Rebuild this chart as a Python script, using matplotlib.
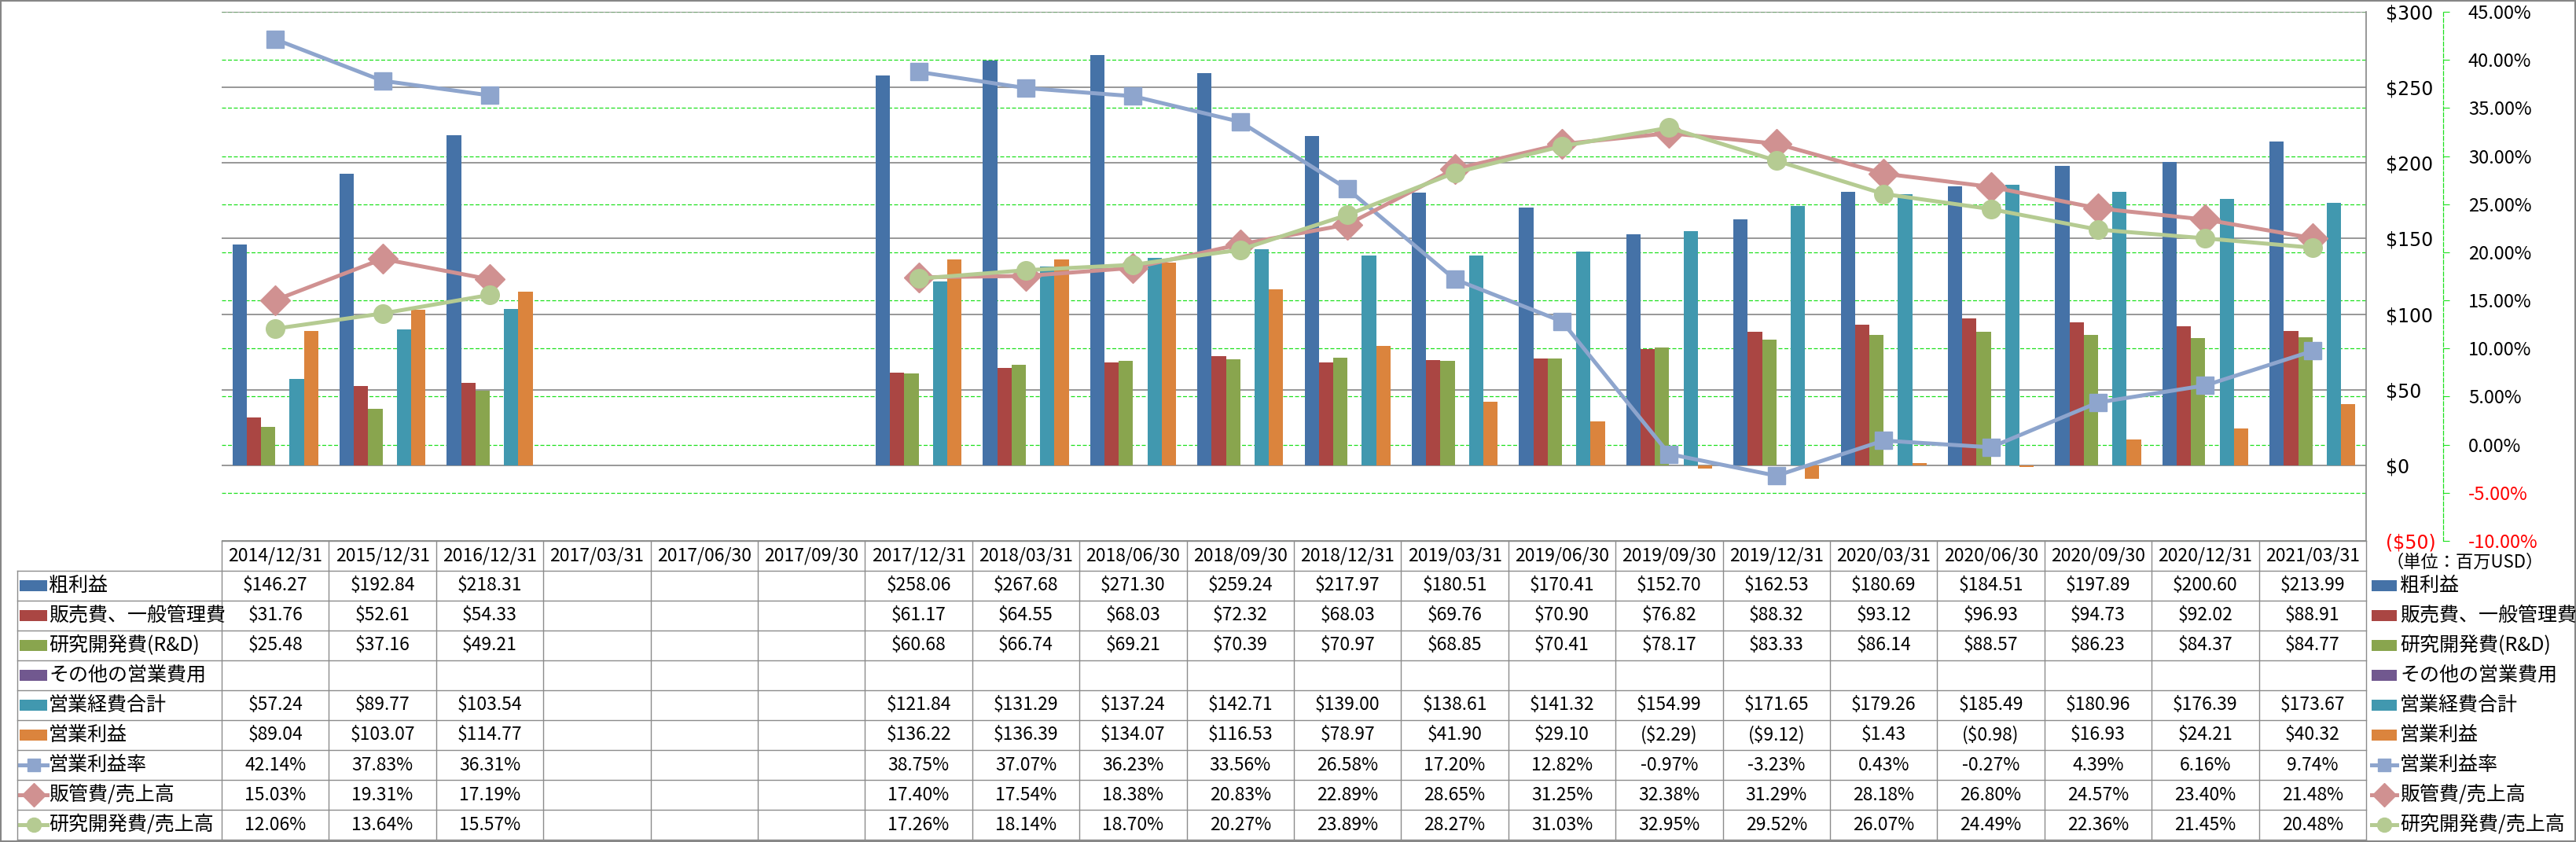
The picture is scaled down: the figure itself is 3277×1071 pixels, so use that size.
import numpy as np
import matplotlib
matplotlib.use('Agg')
import matplotlib.pyplot as plt
from matplotlib.transforms import blended_transform_factory
from matplotlib.patches import Rectangle

plt.rcParams['font.family'] = ['Noto Sans CJK JP', 'DejaVu Sans']

nan = np.nan
dates = ['2014/12/31', '2015/12/31', '2016/12/31', '2017/03/31', '2017/06/30', '2017/09/30',
         '2017/12/31', '2018/03/31', '2018/06/30', '2018/09/30', '2018/12/31', '2019/03/31',
         '2019/06/30', '2019/09/30', '2019/12/31', '2020/03/31', '2020/06/30', '2020/09/30',
         '2020/12/31', '2021/03/31']
gross = [146.27, 192.84, 218.31, nan, nan, nan, 258.06, 267.68, 271.30, 259.24,
         217.97, 180.51, 170.41, 152.70, 162.53, 180.69, 184.51, 197.89, 200.60, 213.99]
sga = [31.76, 52.61, 54.33, nan, nan, nan, 61.17, 64.55, 68.03, 72.32,
       68.03, 69.76, 70.90, 76.82, 88.32, 93.12, 96.93, 94.73, 92.02, 88.91]
rnd = [25.48, 37.16, 49.21, nan, nan, nan, 60.68, 66.74, 69.21, 70.39,
       70.97, 68.85, 70.41, 78.17, 83.33, 86.14, 88.57, 86.23, 84.37, 84.77]
other = [nan] * 20
opex = [57.24, 89.77, 103.54, nan, nan, nan, 121.84, 131.29, 137.24, 142.71,
        139.00, 138.61, 141.32, 154.99, 171.65, 179.26, 185.49, 180.96, 176.39, 173.67]
op_income = [89.04, 103.07, 114.77, nan, nan, nan, 136.22, 136.39, 134.07, 116.53,
             78.97, 41.90, 29.10, -2.29, -9.12, 1.43, -0.98, 16.93, 24.21, 40.32]
op_margin = [42.14, 37.83, 36.31, nan, nan, nan, 38.75, 37.07, 36.23, 33.56,
             26.58, 17.20, 12.82, -0.97, -3.23, 0.43, -0.27, 4.39, 6.16, 9.74]
sga_ratio = [15.03, 19.31, 17.19, nan, nan, nan, 17.40, 17.54, 18.38, 20.83,
             22.89, 28.65, 31.25, 32.38, 31.29, 28.18, 26.80, 24.57, 23.40, 21.48]
rnd_ratio = [12.06, 13.64, 15.57, nan, nan, nan, 17.26, 18.14, 18.70, 20.27,
             23.89, 28.27, 31.03, 32.95, 29.52, 26.07, 24.49, 22.36, 21.45, 20.48]

bar_names = ['粗利益', '販売費、一般管理費', '研究開発費(R&D)', 'その他の営業費用', '営業経費合計', '営業利益']
bar_data = [gross, sga, rnd, other, opex, op_income]
bar_colors = ['#4572A7', '#AA4643', '#89A54E', '#71588F', '#4198AF', '#DB843D']
line_names = ['営業利益率', '販管費/売上高', '研究開発費/売上高']
line_data = [op_margin, sga_ratio, rnd_ratio]
line_colors = ['#8EA5CD', '#D09191', '#B5CB92']
line_markers = ['s', 'D', 'o']
marker_sizes = [16, 19, 17]

usd_ticks = list(range(-50, 301, 50))
pct_ticks = list(range(-10, 46, 5))

W, H = 3277, 1071
L, R, T, B = 282, 3010, 15, 688   # plot area in px
ROW = 38
GRAY = '#868686'
GREEN = '#1EE01E'

fig = plt.figure(figsize=(W / 100, H / 100), dpi=100)
rect = [L / W, 1 - B / H, (R - L) / W, (B - T) / H]
x = np.arange(len(dates))

# secondary % axis (green dashed grid + axis), underneath the bars
axg = fig.add_axes(rect, zorder=0)
axg.set_xlim(-0.5, len(dates) - 0.5)
axg.set_ylim(-10, 45)
axg.set_yticks(pct_ticks)
axg.set_yticklabels(['%.2f%%' % v for v in pct_ticks], family=['DejaVu Sans'])
axg.set_xticks([])
axg.yaxis.tick_right()
axg.grid(axis='y', color=GREEN, ls=(0, (4, 2)), lw=0.9)
for s in ['top', 'bottom', 'left']:
    axg.spines[s].set_visible(False)
axg.spines['right'].set_position(('axes', (3108 - L) / (R - L)))
axg.spines['right'].set_color(GREEN)
axg.spines['right'].set_linestyle((0, (4, 2)))
axg.spines['right'].set_linewidth(0.9)
axg.tick_params(axis='y', length=6, color=GREEN, pad=17, labelsize=17)
for lab, v in zip(axg.get_yticklabels(), pct_ticks):
    lab.set_color('red' if v < 0 else 'black')

# primary $ axis with bars
ax = fig.add_axes(rect, zorder=1)
ax.patch.set_visible(False)
ax.set_xlim(-0.5, len(dates) - 0.5)
ax.set_ylim(-50, 300)

bw = 0.1333
for i, (vals, c) in enumerate(zip(bar_data, bar_colors)):
    ax.bar(x + (i - 2.5) * bw, vals, bw, color=c, zorder=2)

# ratio lines
ax2 = ax.twinx()
ax2.set_zorder(2)
ax2.set_ylim(-10, 45)
ax2.axis('off')
for vals, c, m, ms in zip(line_data, line_colors, line_markers, marker_sizes):
    ax2.plot(x, vals, color=c, lw=3.6, marker=m, ms=ms, mfc=c, mec=c,
             solid_joinstyle='round', solid_capstyle='round')

# $ axis labels on the right (set after twinx, which moves ticks left)
ax.set_yticks(usd_ticks)
ax.set_yticklabels(['($%d)' % -v if v < 0 else '$%d' % v for v in usd_ticks], family=['DejaVu Sans'])
ax.set_xticks([])
ax.yaxis.tick_right()
ax.grid(axis='y', color=GRAY, lw=1.2)
ax.set_axisbelow(True)
for s in ['top', 'bottom', 'left']:
    ax.spines[s].set_visible(False)
ax.spines['right'].set_visible(True)
ax.spines['right'].set_color(GRAY)
ax.spines['right'].set_linewidth(1.2)
ax.tick_params(axis='y', length=0, pad=18, labelsize=17)
for lab, v in zip(ax.get_yticklabels(), usd_ticks):
    lab.set_color('red' if v < 0 else 'black')

# overlay for table, legend, border (pixel coords)
ov = fig.add_axes([0, 0, 1, 1], zorder=3)
ov.set_xlim(0, W)
ov.set_ylim(H, 0)
ov.axis('off')
tr = blended_transform_factory(ax.transData, ov.transData)

TL = 22
nrows = 9
lc = '#8C8C8C'
ov.plot([-0.5, len(dates) - 0.5], [B, B], transform=tr, color=lc, lw=1.0)
for k in range(1, nrows + 2):
    ov.plot([TL, R], [B + k * ROW] * 2, color=lc, lw=1.0)
ov.plot([TL, TL], [B + ROW, B + (nrows + 1) * ROW], color=lc, lw=1.0)
for i in range(len(dates) + 1):
    ov.plot([i - 0.5] * 2, [B, B + (nrows + 1) * ROW], transform=tr, color=lc, lw=1.0)


def money(v):
    if np.isnan(v):
        return ''
    return '($%.2f)' % -v if v < 0 else '$%.2f' % v


def pct(v):
    return '' if np.isnan(v) else '%.2f%%' % v


for i, d in enumerate(dates):
    ov.text(i, B + ROW / 2, d, transform=tr, ha='center', va='center', fontsize=16.5)

rows = [[money(v) for v in s] for s in bar_data] + [[pct(v) for v in s] for s in line_data]
for k, row in enumerate(rows):
    yc = B + ROW * (k + 1) + ROW / 2
    for i, txt in enumerate(row):
        ov.text(i, yc, txt, transform=tr, ha='center', va='center', fontsize=16.5)

names = bar_names + line_names
for k, name in enumerate(names):
    yc = B + ROW * (k + 1) + ROW / 2
    if k < len(bar_names):
        ov.add_patch(Rectangle((25, yc - 7), 35, 14, color=bar_colors[k], lw=0))
        ov.add_patch(Rectangle((3017, yc - 7), 32, 14, color=bar_colors[k], lw=0))
    else:
        j = k - len(bar_names)
        for x0, x1 in [(25, 60), (3017, 3049)]:
            ov.plot([x0, x1], [yc, yc], color=line_colors[j], lw=3.6)
            ov.plot([(x0 + x1) / 2], [yc], color=line_colors[j], marker=line_markers[j],
                    ms=marker_sizes[j] - 4, ls='none')
    ov.text(62, yc, name, ha='left', va='center', fontsize=18)
    ov.text(3053, yc, name, ha='left', va='center', fontsize=18)

ov.text(3035, 715, '（単位：百万USD）', ha='left', va='center', fontsize=16)
ov.add_patch(Rectangle((1, 1), W - 2, H - 2, fill=False, edgecolor=GRAY, lw=1.5))

fig.savefig('out.png', dpi=100)
